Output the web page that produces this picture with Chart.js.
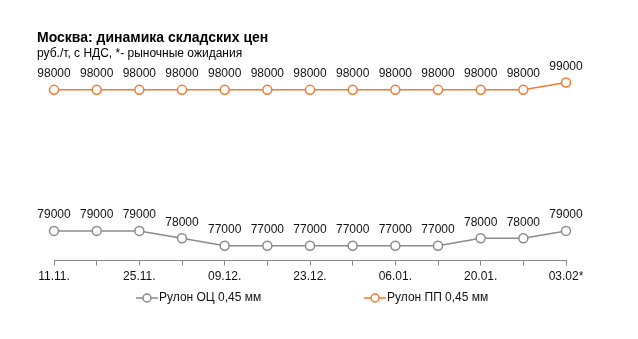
<!DOCTYPE html>
<html>
<head>
<meta charset="utf-8">
<script src="https://cdn.jsdelivr.net/npm/chart.js@4.4.1/dist/chart.umd.min.js"></script>
<style>
  body { margin: 0; background: #fff; font-family: "Liberation Sans", Arial, sans-serif; }
  #wrap { position: relative; width: 638px; height: 339px; }
  #title { position: absolute; left: 37px; top: 29px; font-size: 14px; font-weight: bold; color: #000; }
  #subtitle { position: absolute; left: 37px; top: 46px; font-size: 12px; color: #000; }
</style>
</head>
<body>
<div id="wrap">
  <canvas id="chart" width="638" height="339"></canvas>
  <div id="title">Москва: динамика складских цен</div>
  <div id="subtitle">руб./т, с НДС, *- рыночные ожидания</div>
</div>
<script>
// Chart data
const dates = ["11.11.", "18.11.", "25.11.", "02.12.", "09.12.", "16.12.", "23.12.",
  "30.12.", "06.01.", "13.01.", "20.01.", "27.01.", "03.02*"];
const ocPrices = [79000, 79000, 79000, 78000, 77000, 77000, 77000, 77000, 77000, 77000, 78000, 78000, 79000];
const ppPrices = [98000, 98000, 98000, 98000, 98000, 98000, 98000, 98000, 98000, 98000, 98000, 98000, 99000];

const grayColor = "#8a8a8a";
const orangeColor = "#f07a30";

// Value labels above each point
const valueLabels = {
  id: "valueLabels",
  afterDatasetsDraw(chart) {
    const ctx = chart.ctx;
    ctx.save();
    ctx.font = "12px 'Liberation Sans', Arial, sans-serif";
    ctx.fillStyle = "#111";
    ctx.textAlign = "center";
    ctx.textBaseline = "middle";
    chart.data.datasets.forEach((ds, i) => {
      chart.getDatasetMeta(i).data.forEach((pt, j) => {
        ctx.fillText(ds.data[j], pt.x, pt.y - 16);
      });
    });
    ctx.restore();
  },
};

// Legend with line + circle markers
const lineLegend = {
  id: "lineLegend",
  afterDraw(chart) {
    const ctx = chart.ctx;
    const items = [
      { x: 136, ds: chart.data.datasets[0] },
      { x: 364, ds: chart.data.datasets[1] },
    ];
    const y = 298;
    ctx.save();
    ctx.font = "12px 'Liberation Sans', Arial, sans-serif";
    ctx.textBaseline = "middle";
    items.forEach((it) => {
      ctx.strokeStyle = it.ds.borderColor;
      ctx.lineWidth = 1.5;
      ctx.beginPath();
      ctx.moveTo(it.x, y);
      ctx.lineTo(it.x + 22, y);
      ctx.stroke();
      ctx.beginPath();
      ctx.arc(it.x + 11, y, 4, 0, Math.PI * 2);
      ctx.fillStyle = "#fff";
      ctx.fill();
      ctx.stroke();
      ctx.fillStyle = "#111";
      ctx.fillText(it.ds.label, it.x + 23, y);
    });
    ctx.restore();
  },
};

new Chart(document.getElementById("chart"), {
  type: "line",
  data: {
    labels: dates,
    datasets: [
      {
        label: "Рулон ОЦ 0,45 мм",
        data: ocPrices,
        borderColor: grayColor,
        backgroundColor: "#fff",
        borderWidth: 1.5,
        pointRadius: 4.5,
        pointBorderWidth: 1.5,
        pointBackgroundColor: "#fff",
        tension: 0,
      },
      {
        label: "Рулон ПП 0,45 мм",
        data: ppPrices,
        borderColor: orangeColor,
        backgroundColor: "#fff",
        borderWidth: 1.5,
        pointRadius: 4.5,
        pointBorderWidth: 1.5,
        pointBackgroundColor: "#fff",
        tension: 0,
      },
    ],
  },
  options: {
    responsive: false,
    animation: false,
    layout: { padding: { left: 54, right: 72, top: 75, bottom: 51 } },
    plugins: {
      legend: { display: false },
      tooltip: { enabled: false },
    },
    scales: {
      x: {
        offset: false,
        border: { color: "#888", width: 1 },
        grid: { drawOnChartArea: false, color: "#888", tickLength: 5 },
        ticks: {
          autoSkip: false,
          maxRotation: 0,
          padding: 4,
          color: "#111",
          font: { family: "'Liberation Sans', Arial, sans-serif", size: 12 },
          callback: (v, i) => (i % 2 === 0 ? dates[i] : ""),
        },
      },
      y: {
        display: false,
        min: 75000,
        max: 100000,
      },
    },
  },
  plugins: [valueLabels, lineLegend],
});
</script>
</body>
</html>
